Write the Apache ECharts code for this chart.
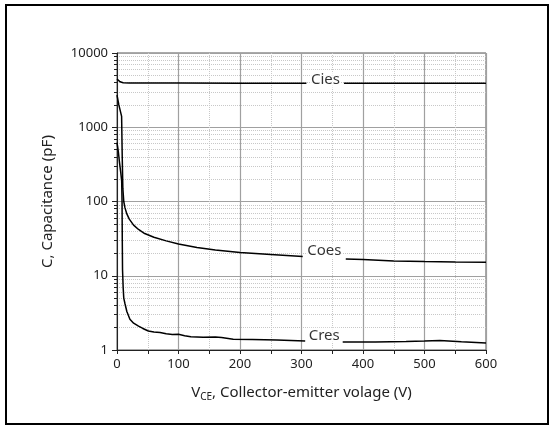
<!DOCTYPE html>
<html>
<head>
<meta charset="utf-8">
<script src="https://cdn.jsdelivr.net/npm/echarts@6/dist/echarts.min.js"></script>
<style>
html,body{margin:0;padding:0;background:#fff;}
#chart{width:553px;height:429px;}
</style>
</head>
<body>
<div id="chart"></div>
<script>
// ---- data ----
const xTickValues = [0, 100, 200, 300, 400, 500, 600];
const yTickValues = [1, 10, 100, 1000, 10000];
const yMinorValues = [2,3,4,5,6,7,8,9,20,30,40,50,60,70,80,90,200,300,400,500,600,700,800,900,2000,3000,4000,5000,6000,7000,8000,9000];

const ciesData = [[0,4450],[2,4300],[5,4100],[10,3980],[20,3950],[100,3930],[200,3920],[308,3920],[340,null],[369,3920],[500,3910],[600,3900]];
const coesData = [[0,2700],[3,2000],[7.5,1400],[8.5,400],[9.5,150],[11,100],[13,82],[16,68],[20,58],[27,48],[35,42],[45,37],[60,33],[80,29.5],[100,26.8],[130,24],[160,22.3],[200,20.5],[250,19.3],[302,18.1],[340,null],[372,16.8],[400,16.5],[450,15.8],[500,15.5],[550,15.3],[600,15.2]];
const cresData = [[0,620],[2,480],[4,340],[6,250],[7.6,190],[8.2,100],[8.6,30],[9,12],[10,7],[11,5],[13,4.2],[16,3.3],[21,2.6],[27,2.3],[35,2.1],[42,1.95],[51,1.8],[60,1.75],[70,1.72],[80,1.65],[90,1.62],[100,1.63],[110,1.56],[120,1.51],[140,1.48],[160,1.5],[170,1.47],[189,1.4],[220,1.39],[260,1.36],[306,1.32],[340,null],[367,1.28],[420,1.28],[470,1.3],[500,1.32],[525,1.34],[560,1.29],[600,1.24]];

const curveLabels = [[339,4300,'Cies'],[337,21.5,'Coes'],[337,1.58,'Cres']];

const FONT = 'Noto Sans';
const chart = echarts.init(document.getElementById('chart'));

function curve(data){
  return {type:'line', data:data, showSymbol:false, symbol:'none', connectNulls:false,
    lineStyle:{color:'#000', width:1.5}, smooth:false, silent:true, z:5};
}

chart.setOption({
  animation:false,
  backgroundColor:'#fff',
  textStyle:{fontFamily:FONT},
  grid:{left:117, right:67, top:53, bottom:79, show:true, borderColor:'#555', borderWidth:1, backgroundColor:'transparent'},
  graphic:[{type:'rect', shape:{x:6, y:5, width:542, height:419}, style:{fill:null, stroke:'#000', lineWidth:2}, silent:true}],
  xAxis:{
    type:'value', min:0, max:600, interval:100,
    axisLine:{show:true, lineStyle:{color:'#222', width:1}},
    axisTick:{show:true, inside:false, length:4, lineStyle:{color:'#222'}},
    minorTick:{show:true, splitNumber:2, length:4, lineStyle:{color:'#222'}},
    splitLine:{show:true, lineStyle:{color:'#a0a0a0', width:1.2}},
    minorSplitLine:{show:true, lineStyle:{color:'#c8c8c8', type:[1,1], width:1}},
    axisLabel:{color:'#222', fontSize:13, margin:8, fontFamily:FONT,
      customValues:xTickValues},
    name:'{a|V}{s|CE}{a|, Collector-emitter volage (V)}',
    nameLocation:'middle', nameGap:33,
    nameTextStyle:{rich:{a:{fontSize:15, color:'#222', fontFamily:FONT}, s:{fontSize:10, color:'#222', fontFamily:FONT, verticalAlign:'bottom', padding:[9,0,0,0]}}}
  },
  yAxis:[{
    type:'log', logBase:10, min:1, max:10000,
    axisLine:{show:true, lineStyle:{color:'#222', width:1}},
    axisTick:{show:true, inside:false, length:5, lineStyle:{color:'#222'}},
    splitLine:{show:true, lineStyle:{color:'#a0a0a0', width:1.2}},
    axisLabel:{color:'#222', fontSize:13, margin:9, fontFamily:FONT, formatter:v=>String(v)},
    name:'C, Capacitance (pF)', nameLocation:'middle', nameGap:62, nameRotate:90,
    nameTextStyle:{fontSize:15, color:'#222', fontFamily:FONT}
  },{
    type:'log', logBase:10, min:1, max:10000, position:'left',
    axisLine:{show:false},
    axisTick:{show:true, inside:false, length:3, lineStyle:{color:'#222'}, customValues:yMinorValues},
    splitLine:{show:true, lineStyle:{color:'#c8c8c8', type:[1,1], width:1}},
    axisLabel:{show:false}
  }],
  series:[
    curve(ciesData), curve(coesData), curve(cresData),
    {type:'scatter', data:curveLabels, symbolSize:1, itemStyle:{color:'transparent'}, silent:true, z:6,
      label:{show:true, position:'inside', formatter:p=>p.value[2], color:'#000', fontSize:15, fontFamily:FONT,
        backgroundColor:'#fff', padding:[0,1]}}
  ]
});
</script>
</body>
</html>
